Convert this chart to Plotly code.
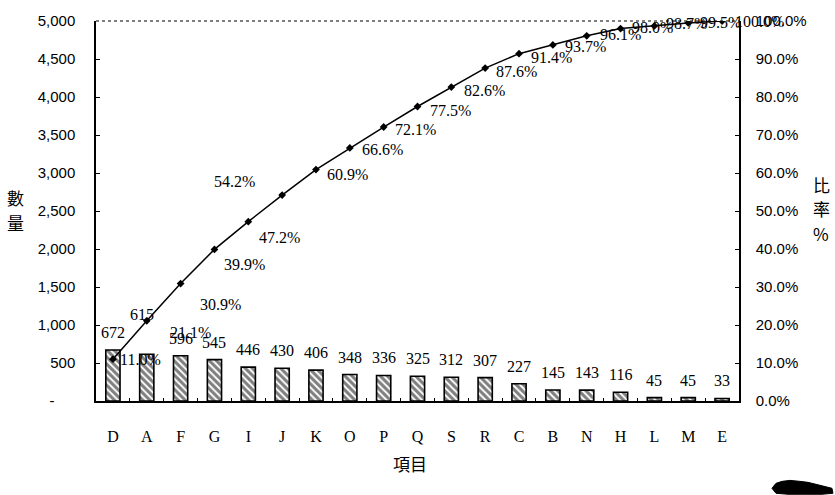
import plotly.graph_objects as go

# Pareto data: items sorted by count, with cumulative share
categories = ["D", "A", "F", "G", "I", "J", "K", "O", "P", "Q", "S", "R", "C", "B", "N", "H", "L", "M", "E"]
counts = [672, 615, 596, 545, 446, 430, 406, 348, 336, 325, 312, 307, 227, 145, 143, 116, 45, 45, 33]
cum_pct = [11.0, 21.1, 30.9, 39.9, 47.2, 54.2, 60.9, 66.6, 72.1, 77.5, 82.6, 87.6, 91.4, 93.7, 96.1, 98.0, 98.7, 99.5, 100.0]

left_ticks = [0, 500, 1000, 1500, 2000, 2500, 3000, 3500, 4000, 4500, 5000]
left_ticktext = ["-\u00a0\u00a0\u00a0\u00a0\u00a0"] + [f"{v:,}" for v in left_ticks[1:]]

# label offsets in pixels (dx right, dy down) for the cumulative labels
pct_dx = [5, 21, 17, 8, 9, -70, 9, 10, 9, 10, 11, 9, 10, 10, 11, 9, 10, 10, 11]
pct_dy = [0, 12, 21, 15, 16, -14, 5, 2, 2, 4, 3, 3, 4, 2, -1, -1, -2, 0, 0]
# count label offsets (dx right, extra lift in px)
cnt_dx = [0, -5] + [0] * 17
cnt_lift = [0, 22] + [0] * 17

W, H = 835, 495
L, R, T, B = 96, 96, 18, 94
PW, PH = W - L - R, H - T - B


def px(x, y):
    return (x - L) / PW, (H - B - y) / PH


SERIF = "Liberation Serif"
SANS = "Liberation Sans"
CJK = "Noto Sans CJK TC"

fig = go.Figure()

fig.add_trace(go.Bar(
    x=categories, y=counts, yaxis="y",
    marker=dict(
        color="white",
        line=dict(color="black", width=1.6),
        pattern=dict(shape="\\", fgcolor="black", bgcolor="white", size=5, solidity=0.62),
    ),
    hoverinfo="x+y", showlegend=False,
))

fig.add_trace(go.Scatter(
    x=categories, y=cum_pct, yaxis="y2", mode="lines+markers",
    line=dict(color="black", width=1.5),
    marker=dict(symbol="diamond", size=6, color="black"),
    showlegend=False,
))

annotations = []
for i, (c, v) in enumerate(zip(categories, counts)):
    annotations.append(dict(
        x=c, y=v, xref="x", yref="y", text=str(v), showarrow=False,
        xanchor="center", yanchor="bottom", xshift=cnt_dx[i], yshift=7 + cnt_lift[i],
        font=dict(family=SERIF, size=16, color="black"),
    ))
for i, (c, p) in enumerate(zip(categories, cum_pct)):
    annotations.append(dict(
        x=c, y=p, xref="x", yref="y2", text=f"{p:.1f}%", showarrow=False,
        xanchor="left", yanchor="middle", xshift=pct_dx[i], yshift=-pct_dy[i],
        font=dict(family=SERIF, size=16, color="black"),
    ))

# axis titles written as stacked characters
for ch, (x, y) in [("數", (15, 196)), ("量", (15, 221)),
                   ("比", (821, 183)), ("率", (821, 207)), ("%", (821, 232)),
                   ("項目", (410, 464))]:
    xp, yp = px(x, y)
    annotations.append(dict(
        x=xp, y=yp, xref="paper", yref="paper", text=ch, showarrow=False,
        xanchor="center", yanchor="middle",
        font=dict(family=CJK, size=17, color="black"),
    ))

blob_pts = [(772, 489), (776, 484), (782, 482), (790, 481), (800, 482), (808, 483),
            (816, 485), (824, 487), (832, 489), (833, 494), (822, 495), (805, 495),
            (788, 495), (776, 494)]
blob_path = "M " + " L ".join(f"{px(x, y)[0]:.4f},{px(x, y)[1]:.4f}" for x, y in blob_pts) + " Z"

shapes = [
    dict(type="line", xref="paper", yref="paper", x0=0, x1=1, y0=1, y1=1,
         line=dict(color="black", width=1.2, dash="dot")),
    dict(type="path", xref="paper", yref="paper", path=blob_path,
         fillcolor="black", line=dict(color="black", width=1)),
]

fig.update_layout(
    width=W, height=H,
    margin=dict(l=L, r=R, t=T, b=B),
    paper_bgcolor="white", plot_bgcolor="white",
    bargap=0.58,
    xaxis=dict(
        type="category", range=[-0.5, len(categories) - 0.5],
        showline=True, linecolor="black", linewidth=1.5,
        ticks="inside", ticklen=3, tickcolor="black", tickson="boundaries",
        tickfont=dict(family=SERIF, size=16, color="black"),
        ticklabelstandoff=20, showgrid=False, zeroline=False,
    ),
    yaxis=dict(
        range=[0, 5000], tickvals=left_ticks, ticktext=left_ticktext,
        showline=True, linecolor="black", linewidth=1.5,
        ticks="inside", ticklen=4, tickcolor="black",
        tickfont=dict(family=SANS, size=15, color="black"),
        ticklabelstandoff=16, showgrid=False, zeroline=False,
    ),
    yaxis2=dict(
        range=[0, 100], dtick=10, tickformat=".1f", ticksuffix="%",
        overlaying="y", side="right",
        showline=True, linecolor="black", linewidth=1.5,
        ticks="inside", ticklen=4, tickcolor="black",
        tickfont=dict(family=SANS, size=15, color="black"),
        ticklabelstandoff=12, showgrid=False, zeroline=False,
    ),
    annotations=annotations,
    shapes=shapes,
)

fig.write_html("out.html")
